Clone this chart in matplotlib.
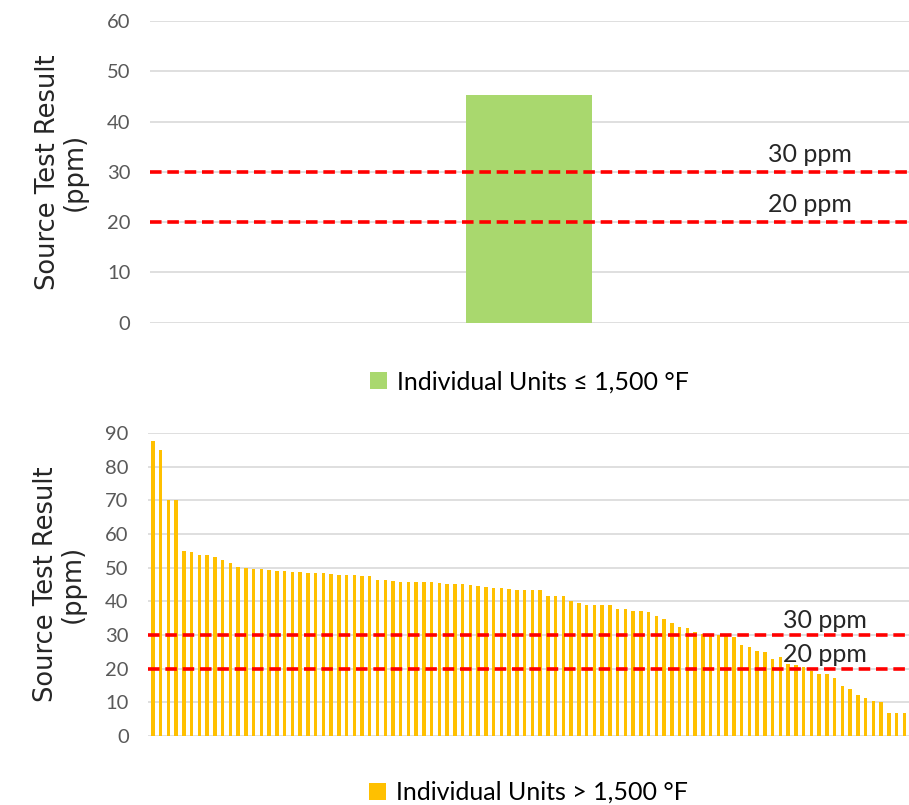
import matplotlib
matplotlib.use("Agg")
import matplotlib.pyplot as plt

plt.rcParams['font.family'] = ['Lato', 'DejaVu Sans']

# Data
low_label = "Individual Units ≤ 1,500 °F"
low_values = [45.3]

high_label = "Individual Units > 1,500 °F"
high_values = [
    87.7, 85.1, 70.0, 70.0, 54.9, 54.5, 53.8, 53.7, 53.3, 52.2,
    51.4, 50.3, 50.0, 49.6, 49.5, 49.3, 49.1, 49.1, 48.7, 48.7,
    48.4, 48.4, 48.3, 48.0, 47.9, 47.9, 47.9, 47.5, 47.5, 46.4,
    46.2, 46.0, 45.7, 45.7, 45.7, 45.7, 45.7, 45.4, 45.2, 45.0,
    45.0, 44.8, 44.4, 44.3, 44.0, 43.8, 43.7, 43.4, 43.2, 43.4,
    43.4, 41.5, 41.5, 41.5, 40.0, 39.6, 38.8, 38.8, 38.8, 38.8,
    37.7, 37.7, 37.2, 37.0, 36.8, 35.5, 34.6, 33.5, 32.3, 31.9,
    30.8, 30.3, 30.1, 30.1, 30.1, 29.3, 27.0, 26.5, 25.1, 24.8,
    22.8, 23.3, 21.3, 20.9, 20.4, 19.4, 18.4, 18.4, 17.2, 14.8,
    13.8, 12.2, 11.1, 10.2, 9.9, 6.8, 6.8, 6.8,
]

limits = [30, 20]
limit_labels = ["30 ppm", "20 ppm"]

fig = plt.figure(figsize=(9.09, 8.05), dpi=100)
ax1 = fig.add_axes([0.165, 0.599, 0.835, 0.375])
ax2 = fig.add_axes([0.163, 0.086, 0.837, 0.376])

tick_color = '#595959'
grid_color = '#d9d9d9'


def style_axis(ax, top, step):
    ax.set_ylim(0, top)
    ax.set_yticks(range(0, top + 1, step))
    ax.yaxis.grid(True, color=grid_color, linewidth=1.2)
    ax.set_axisbelow(True)
    for s in ax.spines.values():
        s.set_visible(False)
    ax.tick_params(axis='y', length=0, labelsize=14.5, labelcolor=tick_color, pad=14)
    ax.set_xticks([])
    ax.set_ylabel("Source Test Result\n(ppm)", fontsize=18.5, family='DejaVu Sans',
                  color='#262626', labelpad=14, linespacing=1.05)


# ---- top chart ----
b1 = ax1.bar([0], low_values, width=0.166, color='#a9d86e', label=low_label)
ax1.set_xlim(-0.5, 0.5)
style_axis(ax1, 60, 10)
for v, txt in zip(limits, limit_labels):
    ax1.axhline(v, color='#ff0000', linestyle=(0, (3.2, 1.6)), linewidth=2.6)
    ax1.text(0.37, v + 1.2, txt, fontsize=18, color='#262626', ha='center', va='bottom')
ax1.legend(handles=[b1], loc='upper center', bbox_to_anchor=(0.5, -0.083), frameon=False,
           fontsize=18, handlelength=0.7, handleheight=0.7, handletextpad=0.4)

# ---- bottom chart ----
n = len(high_values)
b2 = ax2.bar(range(n), high_values, width=0.45, color='#ffc000', label=high_label)
ax2.set_xlim(-0.6, n - 0.4)
style_axis(ax2, 90, 10)
for v, txt in zip(limits, limit_labels):
    ax2.axhline(v, color='#ff0000', linestyle=(0, (3.2, 1.6)), linewidth=2.6, zorder=3)
    ax2.text(n * 0.885, v + 0.8, txt, fontsize=18, color='#262626', ha='center',
             va='bottom', zorder=4)
ax2.legend(handles=[b2], loc='upper center', bbox_to_anchor=(0.5, -0.1), frameon=False,
           fontsize=18, handlelength=0.7, handleheight=0.7, handletextpad=0.4,
           borderaxespad=0.2)

fig.savefig('out.png', dpi=100)
